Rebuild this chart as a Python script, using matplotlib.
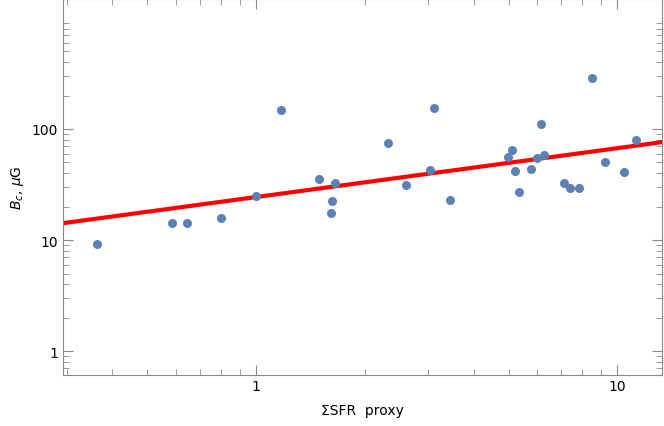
import numpy as np
import matplotlib.pyplot as plt
from matplotlib.ticker import FixedLocator, NullFormatter

sfr = [0.363, 0.585, 0.644, 0.80, 1.0, 1.17, 1.495, 1.61, 1.62, 1.65, 2.32, 2.60,
       3.03, 3.11, 3.45, 4.99, 5.11, 5.22, 5.35, 5.78, 6.0, 6.16, 6.27, 7.13, 7.4,
       7.85, 8.53, 9.26, 10.45, 11.3]
bc = [9.2, 14.2, 14.2, 15.8, 24.9, 148, 35.5, 17.5, 22.4, 32.7, 74.8, 31.3,
      42.8, 155, 22.9, 56, 64.7, 41.9, 27.0, 43.6, 54.8, 111, 58.4, 32.7, 29.4,
      29.4, 288, 50.5, 41, 79.6]
fit_norm = 24.4
fit_slope = 0.44

fig = plt.figure(figsize=(6.64, 4.27), dpi=100)
ax = fig.add_axes([63/664, 51/427, 599/664, 376/427])
xmin, xmax = 0.292, 13.3
xs = np.array([xmin, xmax])
ax.plot(xs, fit_norm * xs**fit_slope, color='#ff0000', lw=3, zorder=2)
ax.scatter(sfr, bc, s=30, color='#5e81b5', zorder=3)
ax.set_xscale('log')
ax.set_yscale('log')
ax.set_xlim(xmin, xmax)
ax.set_ylim(0.61, 1480)
ax.set_xticks([1, 10])
ax.set_xticklabels(['1', '10'])
ax.set_yticks([1, 10, 100])
ax.set_yticklabels(['1', '10', '100'])
ax.xaxis.set_minor_locator(FixedLocator([k * 10.0**e for e in (-1, 0, 1) for k in range(2, 10)]))
ax.yaxis.set_minor_locator(FixedLocator([k * 10.0**e for e in (-1, 0, 1, 2) for k in range(2, 10)]))
ax.xaxis.set_minor_formatter(NullFormatter())
ax.yaxis.set_minor_formatter(NullFormatter())
ax.tick_params(which='both', direction='in', top=True, right=True, color='#888888', labelsize=10)
ax.tick_params(axis='x', pad=3)
ax.tick_params(which='major', length=7)
ax.tick_params(which='minor', length=4)
for s in ax.spines.values():
    s.set_color('#888888')
ax.set_xlabel('ΣSFR  proxy', fontsize=10, labelpad=7)
ax.set_ylabel('$B_c$, $\\mu$G', fontsize=10)
fig.savefig('out.png', dpi=100)
